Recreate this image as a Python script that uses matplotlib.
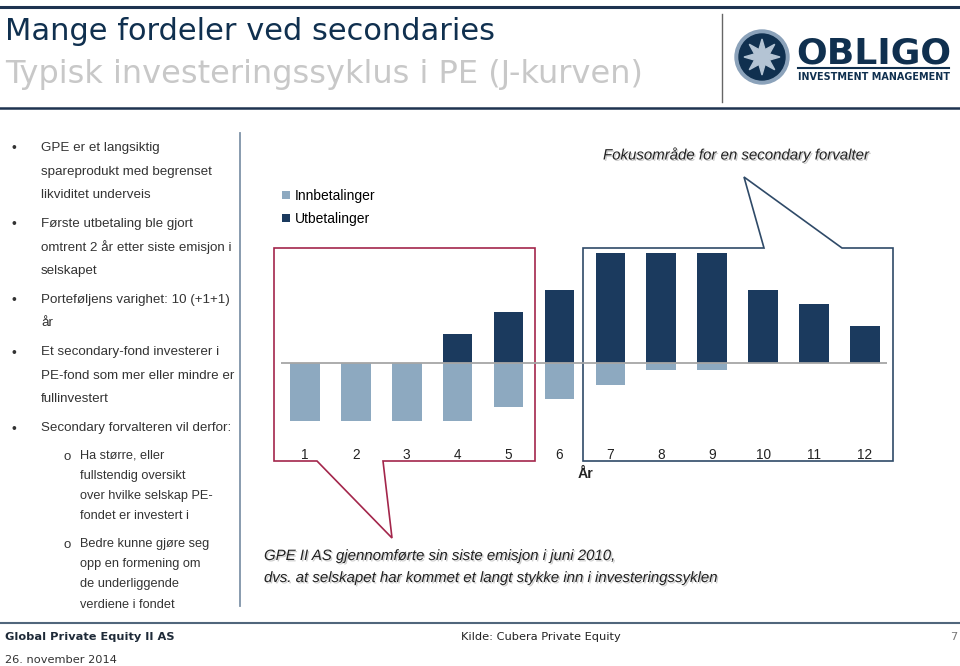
import matplotlib
matplotlib.use("Agg")
import matplotlib.pyplot as plt
import matplotlib.patheffects as pe
from matplotlib import font_manager
from matplotlib.patches import Polygon, Circle
import numpy as np

# data
years = list(range(1, 13))
year_labels = [str(y) for y in years]
innbetalinger = [-8, -8, -8, -8, -6, -5, -3, -1, -1, 0, 0, 0]
utbetalinger = [0, 0, 0, 4, 7, 10, 15, 15, 15, 10, 8, 5]
series_names = ["Innbetalinger", "Utbetalinger"]

title = "Mange fordeler ved secondaries"
subtitle = "Typisk investeringssyklus i PE (J-kurven)"
bullets = [
    ["GPE er et langsiktig", "spareprodukt med begrenset", "likviditet underveis"],
    ["Første utbetaling ble gjort", "omtrent 2 år etter siste emisjon i", "selskapet"],
    ["Porteføljens varighet: 10 (+1+1)", "år"],
    ["Et secondary-fond investerer i", "PE-fond som mer eller mindre er", "fullinvestert"],
    ["Secondary forvalteren vil derfor:"],
]
sub_bullets = [
    ["Ha større, eller", "fullstendig oversikt", "over hvilke selskap PE-", "fondet er investert i"],
    ["Bedre kunne gjøre seg", "opp en formening om", "de underliggende", "verdiene i fondet"],
]
focus_note = "Fokusområde for en secondary forvalter"
gpe_note = ["GPE II AS gjennomførte sin siste emisjon i juni 2010,",
            "dvs. at selskapet har kommet et langt stykke inn i investeringssyklen"]

DARK = "#1b3a5e"
LIGHT = "#8da9c0"
NAVY = "#10304f"

names = {f.name for f in font_manager.fontManager.ttflist}
if "Liberation Sans Narrow" in names:
    NARROW, nscale = "Liberation Sans Narrow", 1.15
else:
    NARROW, nscale = "Liberation Sans", 0.96

W, H = 960, 666
fig = plt.figure(figsize=(W / 100, H / 100), dpi=100)

# background axes in pixel units for the slide furniture
bg = fig.add_axes([0, 0, 1, 1])
bg.set_xlim(0, W)
bg.set_ylim(H, 0)
bg.axis("off")

# header
bg.plot([0, W], [7, 7], color="#1e3350", lw=2.2)
bg.plot([0, W], [108, 108], color="#1e3350", lw=1.8)
bg.text(5, 40, title, fontsize=22, color=NAVY, family="DejaVu Sans", va="baseline")
bg.text(5, 83, subtitle, fontsize=23, color="#c8c8c8", family="DejaVu Sans", va="baseline")

# logo
bg.plot([722, 722], [14, 102], color="#666666", lw=1)
cx, cy = 762, 57
bg.add_patch(Circle((cx, cy), 27, color="#8ba2ba"))
bg.add_patch(Circle((cx, cy), 23, color=NAVY))
ang = np.linspace(0, 2 * np.pi, 17)[:-1] + np.pi / 2
rad = np.where(np.arange(16) % 2 == 0, 18, 8)
star = np.column_stack([cx + rad * np.cos(ang), cy - rad * np.sin(ang)])
bg.add_patch(Polygon(star, closed=True, color="#b4c4d4"))
bg.text(796, 63, "OBLIGO", fontsize=26, fontweight="bold", color=NAVY,
        family="DejaVu Sans", va="baseline")
bg.plot([798, 949], [68, 68], color=NAVY, lw=1.5)
bg.text(798, 80, "INVESTMENT MANAGEMENT", fontsize=6.9, fontweight="bold",
        color=NAVY, family="DejaVu Sans", va="baseline")

# left column
bg.plot([240, 240], [133, 606], color="#7f93a8", lw=1.3)
y = 148
for group in bullets:
    bg.text(12, y, "•", fontsize=10, color="#333333", family="Liberation Sans", va="center")
    for line in group:
        bg.text(41, y, line, fontsize=10 * nscale, color="#333333", family=NARROW, va="center")
        y += 23.5
    y += 5.5
y -= 2
for group in sub_bullets:
    bg.text(63, y + 1, "o", fontsize=9.5, color="#333333", family="Liberation Sans", va="center")
    for line in group:
        bg.text(80, y, line, fontsize=9.6 * nscale, color="#333333", family=NARROW, va="center")
        y += 20.3
    y += 7

# callout outlines
red = [(274, 248), (535, 248), (535, 461), (383, 461), (392, 538), (317, 461), (274, 461)]
blue = [(583, 248), (764, 248), (744, 177), (842, 248), (893, 248), (893, 461), (583, 461)]
bg.add_patch(Polygon(red, closed=True, fill=False, edgecolor="#a3264b", lw=1.2))
bg.add_patch(Polygon(blue, closed=True, fill=False, edgecolor="#2f4a68", lw=1.2))

shadow = [pe.withSimplePatchShadow(offset=(1, -1), shadow_rgbFace="#999999", alpha=0.5)]
bg.text(603, 155, focus_note, fontsize=10.8, style="italic", color="#222222",
        family="Liberation Sans", va="center", path_effects=shadow)
for i, line in enumerate(gpe_note):
    bg.text(264, 556 + 22 * i, line, fontsize=10.8, style="italic", color="#222222",
            family="Liberation Sans", va="center", path_effects=shadow)

# footer
bg.plot([0, W], [623, 623], color="#50667c", lw=1.5)
bg.text(5, 637, "Global Private Equity II AS", fontsize=8.2, fontweight="bold",
        color="#1e2a38", family="DejaVu Sans", va="center")
bg.text(461, 637, "Kilde: Cubera Private Equity", fontsize=8.2, color="#222222",
        family="DejaVu Sans", va="center")
bg.text(957, 637, "7", fontsize=8.2, color="#777777", family="DejaVu Sans",
        va="center", ha="right")
bg.text(5, 660, "26. november 2014", fontsize=8.2, color="#333333",
        family="DejaVu Sans", va="center")

# the J-curve chart
x0, x1 = 0.53, 12.43
px_per_x = 50.9
y0, y1 = -9, 16
px_per_y = 7.3
left = 279.5 + (x0 - 0.5) * px_per_x
right = 279.5 + (x1 - 0.5) * px_per_x
bottom = 362.7 - y0 * px_per_y
top = 362.7 - y1 * px_per_y
ax = fig.add_axes([left / W, 1 - bottom / H, (right - left) / W, (bottom - top) / H])
ax.patch.set_alpha(0)
b1 = ax.bar(years, innbetalinger, width=0.58, color=LIGHT, label=series_names[0])
b2 = ax.bar(years, utbetalinger, width=0.58, color=DARK, label=series_names[1])
ax.axhline(0, color="#a6a6a6", lw=1.3)
ax.set_xlim(x0, x1)
ax.set_ylim(y0, y1)
ax.set_yticks([])
ax.set_xticks(years)
ax.set_xticklabels(year_labels, fontsize=10.2 * nscale, family=NARROW, color="#222222")
ax.tick_params(axis="x", length=0, pad=14)
for s in ax.spines.values():
    s.set_visible(False)
bg.text(585, 474, "År", fontsize=10.5 * nscale, fontweight="bold", family=NARROW,
        color="#222222", ha="center", va="center")

fig.legend(handles=[b1, b2], loc="upper left", bbox_to_anchor=(282 / W, 1 - 189 / H),
           frameon=False, prop={"family": "Liberation Sans", "size": 10},
           handlelength=0.55, handleheight=0.55, handletextpad=0.35,
           labelspacing=0.65, borderpad=0, borderaxespad=0)

fig.savefig("out.png", dpi=100)
